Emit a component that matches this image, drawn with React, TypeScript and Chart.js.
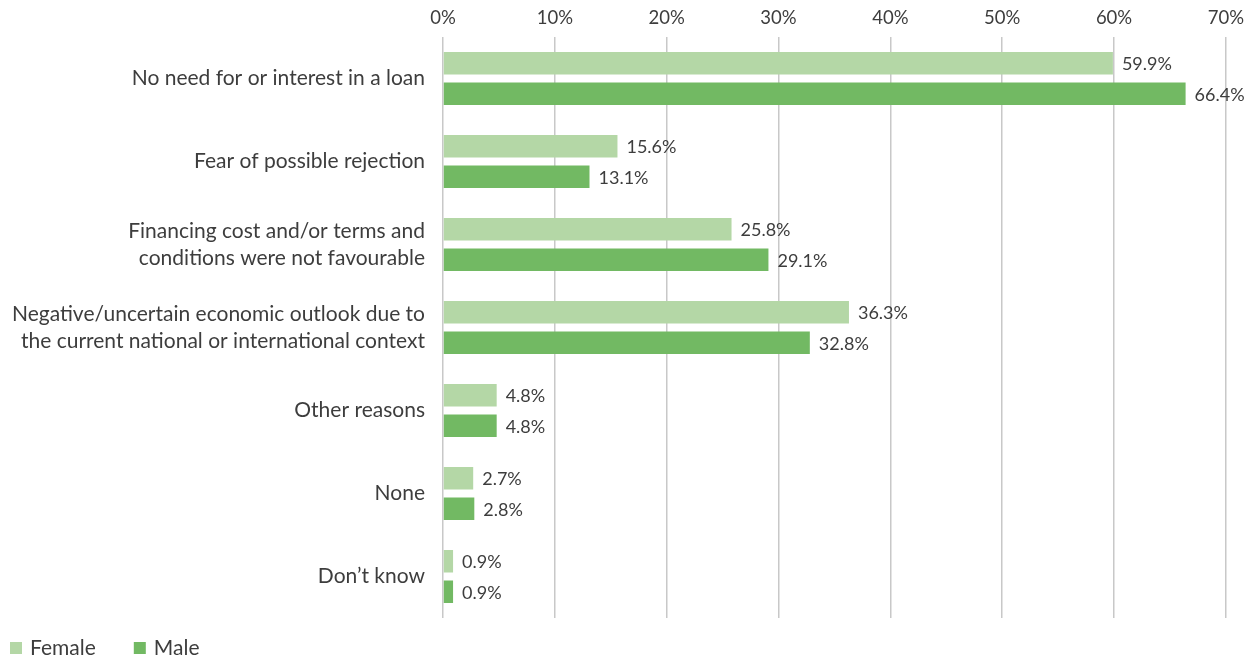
import React, { useEffect, useRef } from 'react';
import { Chart, registerables } from 'chart.js';

Chart.register(...registerables);

const categories: (string | string[])[] = [
  'No need for or interest in a loan',
  'Fear of possible rejection',
  ['Financing cost and/or terms and', 'conditions were not favourable'],
  ['Negative/uncertain economic outlook due to', 'the current national or international context'],
  'Other reasons',
  'None',
  'Don\u2019t know',
];
const seriesNames = ['Female', 'Male'];
const femaleValues = [59.9, 15.6, 25.8, 36.3, 4.8, 2.7, 0.9];
const maleValues = [66.4, 13.1, 29.1, 32.8, 4.8, 2.8, 0.9];
const seriesColors = ['#b4d7a6', '#72b963'];
const axisMin = 0;
const axisMax = 70;
const axisStep = 10;

const FONT = 'Lato, "Open Sans", sans-serif';
const TEXT = '#3d3d3d';

const valueLabels = {
  id: 'valueLabels',
  afterDatasetsDraw(chart: any) {
    const ctx = chart.ctx;
    ctx.save();
    ctx.font = `18px ${FONT}`;
    ctx.fillStyle = TEXT;
    ctx.textBaseline = 'middle';
    ctx.textAlign = 'left';
    chart.data.datasets.forEach((ds: any, i: number) => {
      const meta = chart.getDatasetMeta(i);
      meta.data.forEach((bar: any, j: number) => {
        ctx.fillText(Number(ds.data[j]).toFixed(1) + '%', bar.x + 9, bar.y + 1);
      });
    });
    ctx.restore();
  },
};

const bottomLegend = {
  id: 'bottomLegend',
  afterDraw(chart: any) {
    const ctx = chart.ctx;
    ctx.save();
    ctx.font = `21px ${FONT}`;
    ctx.textBaseline = 'middle';
    ctx.textAlign = 'left';
    let x = 10;
    const y = chart.height - 8;
    chart.data.datasets.forEach((ds: any) => {
      ctx.fillStyle = ds.backgroundColor;
      ctx.fillRect(x, y - 6, 12, 12);
      ctx.fillStyle = TEXT;
      ctx.fillText(ds.label, x + 20, y);
      x += 20 + ctx.measureText(ds.label).width + 38;
    });
    ctx.restore();
  },
};

export default function App() {
  const ref = useRef<HTMLCanvasElement>(null);
  useEffect(() => {
    if (!ref.current) return;
    const chart = new Chart(ref.current, {
      type: 'bar',
      data: {
        labels: categories as any,
        datasets: [
          { label: seriesNames[0], data: femaleValues, backgroundColor: seriesColors[0], categoryPercentage: 0.735, barPercentage: 0.74 },
          { label: seriesNames[1], data: maleValues, backgroundColor: seriesColors[1], categoryPercentage: 0.735, barPercentage: 0.74 },
        ],
      },
      options: {
        indexAxis: 'y',
        animation: false,
        responsive: true,
        maintainAspectRatio: false,
        layout: { padding: { left: 0, right: 23, top: 0, bottom: 38 } },
        plugins: { legend: { display: false }, tooltip: { enabled: false } },
        scales: {
          x: {
            position: 'top',
            min: axisMin,
            max: axisMax,
            ticks: {
              stepSize: axisStep,
              callback: (v: any) => v + '%',
              font: { family: FONT, size: 18.5 },
              color: TEXT,
              padding: 8,
            },
            grid: { color: '#c8c8c8', lineWidth: 1.5, drawTicks: false },
            border: { display: false },
            afterFit: (s: any) => { s.height = 37; },
          },
          y: {
            ticks: {
              font: { family: FONT, size: 21, lineHeight: 1.28 },
              color: TEXT,
              padding: 10,
            },
            grid: { display: false },
            border: { display: false },
            afterFit: (s: any) => { s.width = 443; },
          },
        },
      },
      plugins: [valueLabels, bottomLegend],
    });
    return () => chart.destroy();
  }, []);
  return (
    <div style={{ position: 'fixed', left: 0, top: 0, width: 1252, height: 656, background: '#fff' }}>
      <canvas ref={ref} />
    </div>
  );
}
